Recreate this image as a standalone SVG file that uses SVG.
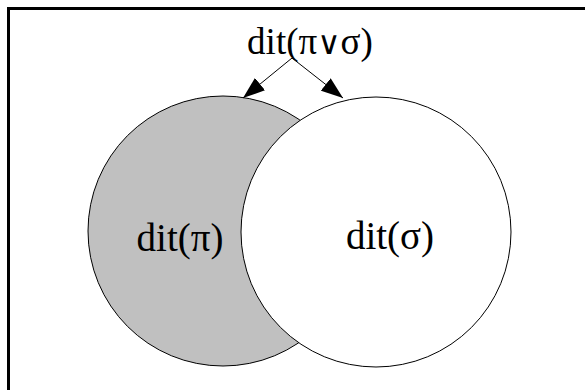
<svg xmlns="http://www.w3.org/2000/svg" width="585" height="390" viewBox="0 0 585 390">
<defs>
<style>
.lbl{font-family:"Liberation Serif","DejaVu Serif","Times New Roman",serif;fill:#000;text-anchor:middle}
.set{stroke:#000;stroke-width:1}
.edge{stroke:#000;stroke-width:1;fill:none}
</style>
<marker id="ah" markerUnits="userSpaceOnUse" markerWidth="22" markerHeight="16" refX="22" refY="8" orient="auto">
<path d="M0,0 L22,8 L0,16 z" fill="#000"/>
</marker>
</defs>
<rect x="0" y="0" width="585" height="390" fill="#fff"/>
<rect x="8.5" y="8.5" width="590" height="400" fill="none" stroke="#000" stroke-width="3"/>
<g id="dit-pi">
<circle class="set" cx="223" cy="231" r="135" fill="#c0c0c0"/>
<text class="lbl" x="180" y="251" font-size="39">dit(π)</text>
</g>
<g id="dit-sigma">
<circle class="set" cx="376" cy="232" r="135" fill="#fff"/>
<text class="lbl" x="390" y="249" font-size="39">dit(σ)</text>
</g>
<g id="dit-join">
<text class="lbl" x="310" y="54" font-size="37">dit(π<tspan font-family="DejaVu Serif" font-size="32">∨</tspan>σ)</text>
</g>
<g id="connectors">
<line class="edge" x1="292" y1="58" x2="243" y2="98" marker-end="url(#ah)"/>
<line class="edge" x1="292" y1="58" x2="343" y2="98" marker-end="url(#ah)"/>
</g>
</svg>
